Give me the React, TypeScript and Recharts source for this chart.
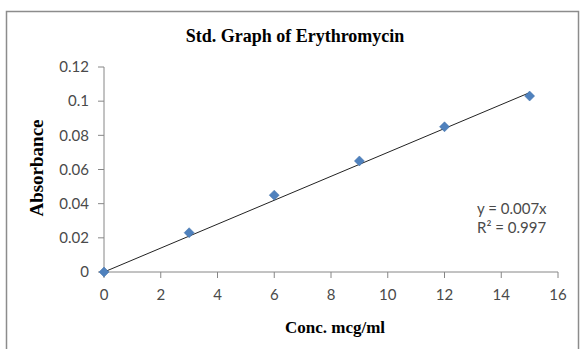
import React from 'react';
import { ScatterChart, Scatter, XAxis, YAxis, ReferenceLine, Customized } from 'recharts';

// calibration points
const concentrations = [0, 3, 6, 9, 12, 15];
const absorbances = [0, 0.023, 0.045, 0.065, 0.085, 0.103];

const xTicks = [0, 2, 4, 6, 8, 10, 12, 14, 16];
const yTicks = [0, 0.02, 0.04, 0.06, 0.08, 0.1, 0.12];

// linear trendline y = 0.007x, drawn through the data range
const trendX = [0, 15];
const trendY = [0, 0.105];

const equationLines = ['y = 0.007x', 'R² = 0.997'];

const AXIS_COLOR = '#868686';
const TICK_COLOR = '#4a4a4a';
const MARKER_COLOR = '#4F81BD';
const SANS = 'Lato, "Open Sans", sans-serif';
const SERIF = '"Liberation Serif", "Times New Roman", serif';

const data = concentrations.map((x, i) => ({ x, y: absorbances[i] }));

const Diamond = (props: any) => {
  const { cx, cy } = props;
  const r = 5;
  return (
    <polygon
      points={`${cx},${cy - r} ${cx + r},${cy} ${cx},${cy + r} ${cx - r},${cy}`}
      fill={MARKER_COLOR}
      stroke="#3f6fa8"
      strokeWidth={0.5}
    />
  );
};

const Decorations = () => (
  <g>
    <rect x={6.5} y={11.5} width={572} height={360} fill="none" stroke="#8c8c8c" strokeWidth={1.5} />
    <text x={295} y={42} textAnchor="middle" fontFamily={SERIF} fontWeight="bold" fontSize={18} fill="#000">
      Std. Graph of Erythromycin
    </text>
    <text
      x={43}
      y={168}
      transform="rotate(-90 43 168)"
      textAnchor="middle"
      fontFamily={SERIF}
      fontWeight="bold"
      fontSize={19}
      fill="#000"
    >
      Absorbance
    </text>
    <text x={335} y={333} textAnchor="middle" fontFamily={SERIF} fontWeight="bold" fontSize={17} fill="#000">
      Conc. mcg/ml
    </text>
    {equationLines.map((line, i) => (
      <text key={line} x={477} y={214 + i * 19} fontFamily={SANS} fontSize={15} fill={TICK_COLOR}>
        {line}
      </text>
    ))}
  </g>
);

export default function App() {
  return (
    <div style={{ position: 'absolute', left: 0, top: 0, width: 580, height: 349, background: '#fff' }}>
      <ScatterChart width={580} height={349} margin={{ top: 67, right: 22, left: 0, bottom: 47 }}>
        <XAxis
          type="number"
          dataKey="x"
          domain={[0, 16]}
          ticks={xTicks}
          interval={0}
          height={30}
          stroke={AXIS_COLOR}
          tickSize={6}
          tickMargin={11}
          tick={{ fill: TICK_COLOR, fontSize: 15, fontFamily: SANS }}
        />
        <YAxis
          type="number"
          dataKey="y"
          domain={[0, 0.12]}
          ticks={yTicks}
          interval={0}
          width={104}
          stroke={AXIS_COLOR}
          tickSize={6}
          tickMargin={9}
          tickFormatter={(v: number) => String(v)}
          tick={{ fill: TICK_COLOR, fontSize: 15, fontFamily: SANS }}
        />
        <ReferenceLine
          segment={[
            { x: trendX[0], y: trendY[0] },
            { x: trendX[1], y: trendY[1] },
          ]}
          stroke="#222"
          strokeWidth={1}
        />
        <Scatter data={data} shape={<Diamond />} isAnimationActive={false} />
        <Customized component={Decorations} />
      </ScatterChart>
    </div>
  );
}
